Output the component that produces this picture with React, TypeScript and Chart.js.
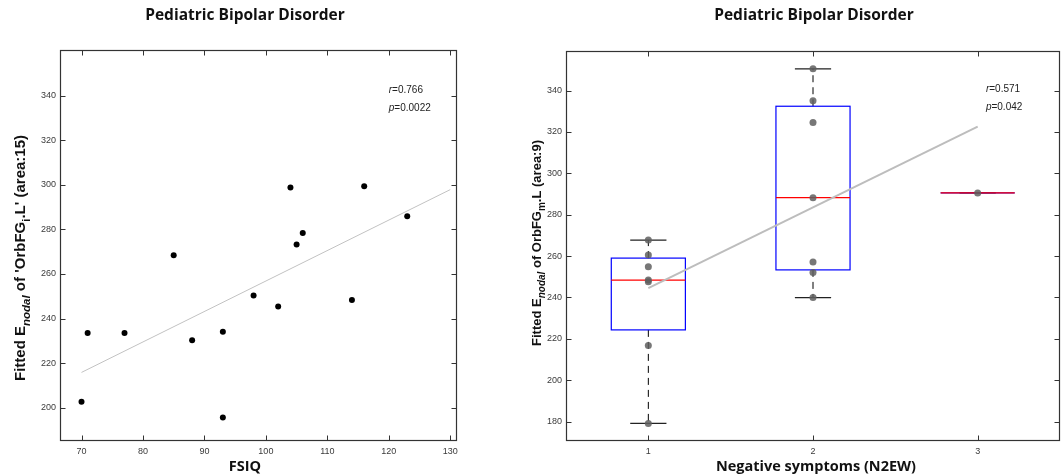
import React, { useEffect, useRef } from "react";
import { Chart, registerables } from "chart.js";
Chart.register(...registerables);

// ---------- Left panel data (FSIQ vs Enodal OrbFG_i.L) ----------
const fsiq = [70, 71, 77, 85, 88, 93, 93, 98, 102, 104, 105, 106, 114, 116, 123];
const enodalOrbFGiL = [202.6, 233.5, 233.5, 268.4, 230.2, 234.1, 195.6, 250.4, 245.4, 298.9, 273.3, 278.4, 248.3, 299.4, 285.9];
const fitFsiqX = [70, 130];
const fitFsiqY = [215.8, 297.9];
const leftXTicks = [70, 80, 90, 100, 110, 120, 130];
const leftYTicks = [200, 220, 240, 260, 280, 300, 320, 340];
const leftStats = ["r=0.766", "p=0.0022"];

// ---------- Right panel data (N2EW vs Enodal OrbFG_m.L) ----------
const n2ewGroups = [1, 2, 3];
const n2ewX = [1, 1, 1, 1, 1, 1, 1, 2, 2, 2, 2, 2, 2, 2, 3];
const enodalOrbFGmL = [267.7, 260.5, 254.8, 248.4, 247.6, 216.7, 179.1, 350.5, 335.1, 324.5, 288.2, 257.1, 252.0, 239.9, 290.5];
const boxQ1 = [224.3, 253.3, 290.5];
const boxMedian = [248.4, 288.2, 290.5];
const boxQ3 = [259.0, 332.4, 290.5];
const whiskerLow = [179.1, 239.9, 290.5];
const whiskerHigh = [267.7, 350.5, 290.5];
const fitN2ewX = [1, 3];
const fitN2ewY = [244.5, 322.5];
const rightXTicks = [1, 2, 3];
const rightYTicks = [180, 200, 220, 240, 260, 280, 300, 320, 340];
const rightStats = ["r=0.571", "p=0.042"];

const TITLE = "Pediatric Bipolar Disorder";
const TICK_FONT = { family: "'Liberation Sans', Arial, sans-serif", size: 9 };
const TICK_COLOR = "#3a3a3a";
const FRAME_COLOR = "#333";
const BOLD_SANS = "'Liberation Sans', Arial, sans-serif";
const HEAD_FONT = "'Open Sans', 'Noto Sans', sans-serif";

type Seg = { text: string; font: string; dy: number };

function drawRich(ctx: CanvasRenderingContext2D, segs: Seg[], cx: number, cy: number, rotate: boolean) {
  ctx.save();
  ctx.translate(cx, cy);
  if (rotate) ctx.rotate(-Math.PI / 2);
  let total = 0;
  for (const s of segs) {
    ctx.font = s.font;
    total += ctx.measureText(s.text).width;
  }
  let x = -total / 2;
  ctx.textAlign = "left";
  ctx.textBaseline = "alphabetic";
  for (const s of segs) {
    ctx.font = s.font;
    ctx.fillText(s.text, x, s.dy);
    x += ctx.measureText(s.text).width;
  }
  ctx.restore();
}

function framePlugin(xTicks: number[], yTicks: number[]) {
  return {
    id: "frameTicks",
    afterDatasetsDraw(chart: any) {
      const { ctx, chartArea: a, scales } = chart;
      const xs = scales.x;
      const ys = scales.y;
      const L = Math.round(a.left) + 0.5;
      const R = Math.round(a.right) - 0.5;
      const T = Math.round(a.top) + 0.5;
      const B = Math.round(a.bottom) - 0.5;
      ctx.save();
      ctx.strokeStyle = FRAME_COLOR;
      ctx.lineWidth = 1.2;
      ctx.strokeRect(L, T, R - L, B - T);
      const tl = 5;
      ctx.lineWidth = 1;
      ctx.beginPath();
      for (const v of xTicks) {
        const px = Math.round(xs.getPixelForValue(v)) + 0.5;
        ctx.moveTo(px, B);
        ctx.lineTo(px, B - tl);
        ctx.moveTo(px, T);
        ctx.lineTo(px, T + tl);
      }
      for (const v of yTicks) {
        const py = Math.round(ys.getPixelForValue(v)) + 0.5;
        ctx.moveTo(L, py);
        ctx.lineTo(L + tl, py);
        ctx.moveTo(R, py);
        ctx.lineTo(R - tl, py);
      }
      ctx.stroke();
      ctx.restore();
    },
  };
}

function textPlugin(opts: {
  titleX: number;
  xLabel: string;
  xLabelX: number;
  yLabelSegs: Seg[];
  yLabelX: number;
  yLabelY: number;
  stats: string[];
  statX: number;
  statY: number;
}) {
  return {
    id: "texts",
    afterDraw(chart: any) {
      const { ctx, scales } = chart;
      ctx.save();
      ctx.fillStyle = "#111";
      ctx.font = `bold 15.5px ${HEAD_FONT}`;
      ctx.textAlign = "center";
      ctx.textBaseline = "alphabetic";
      ctx.fillText(TITLE, opts.titleX, 20);
      ctx.font = `bold 14.5px ${HEAD_FONT}`;
      ctx.fillText(opts.xLabel, opts.xLabelX, 471);
      ctx.fillStyle = "#111";
      drawRich(ctx, opts.yLabelSegs, opts.yLabelX, opts.yLabelY, true);
      // stats annotation anchored in data coordinates
      const px = scales.x.getPixelForValue(opts.statX);
      const py = scales.y.getPixelForValue(opts.statY);
      ctx.fillStyle = "#222";
      opts.stats.forEach((s, i) => {
        const lead = s.slice(0, 1);
        const rest = s.slice(1);
        ctx.textAlign = "left";
        ctx.textBaseline = "middle";
        ctx.font = `italic 10px ${BOLD_SANS}`;
        ctx.fillText(lead, px, py + i * 18);
        const w = ctx.measureText(lead).width;
        ctx.font = `10px ${BOLD_SANS}`;
        ctx.fillText(rest, px + w, py + i * 18);
      });
      ctx.restore();
    },
  };
}

const boxPlugin = {
  id: "boxes",
  beforeDatasetsDraw(chart: any) {
    const { ctx, scales } = chart;
    const xs = scales.x;
    const ys = scales.y;
    ctx.save();
    n2ewGroups.forEach((g, i) => {
      const xc = xs.getPixelForValue(g);
      const bl = xs.getPixelForValue(g - 0.225);
      const br = xs.getPixelForValue(g + 0.225);
      const cl = xs.getPixelForValue(g - 0.11);
      const cr = xs.getPixelForValue(g + 0.11);
      const yq1 = ys.getPixelForValue(boxQ1[i]);
      const yq3 = ys.getPixelForValue(boxQ3[i]);
      const ymed = ys.getPixelForValue(boxMedian[i]);
      const ylo = ys.getPixelForValue(whiskerLow[i]);
      const yhi = ys.getPixelForValue(whiskerHigh[i]);
      // whiskers
      ctx.strokeStyle = "#000";
      ctx.lineWidth = 1;
      ctx.setLineDash([7, 5]);
      ctx.beginPath();
      ctx.moveTo(xc, yq3);
      ctx.lineTo(xc, yhi);
      ctx.moveTo(xc, yq1);
      ctx.lineTo(xc, ylo);
      ctx.stroke();
      ctx.setLineDash([]);
      // caps
      ctx.strokeStyle = "#222";
      ctx.lineWidth = 1.2;
      ctx.beginPath();
      ctx.moveTo(cl, yhi);
      ctx.lineTo(cr, yhi);
      ctx.moveTo(cl, ylo);
      ctx.lineTo(cr, ylo);
      ctx.stroke();
      // box
      ctx.strokeStyle = "#0000ff";
      ctx.lineWidth = 1.2;
      ctx.strokeRect(bl, yq3, br - bl, yq1 - yq3);
      // median
      ctx.strokeStyle = "#ff0000";
      ctx.lineWidth = 1.2;
      ctx.beginPath();
      ctx.moveTo(bl, ymed);
      ctx.lineTo(br, ymed);
      ctx.stroke();
    });
    ctx.restore();
  },
};

function baseScales(xMin: number, xMax: number, yMin: number, yMax: number, xTicks: number[], yTicks: number[], yWidth: number) {
  return {
    x: {
      type: "linear",
      min: xMin,
      max: xMax,
      grid: { display: false, drawTicks: false },
      border: { display: false },
      ticks: { font: TICK_FONT, color: TICK_COLOR, padding: 5, maxRotation: 0, autoSkip: false, callback: (v: any) => String(v) },
      afterBuildTicks: (s: any) => {
        s.ticks = xTicks.map((v) => ({ value: v }));
      },
      afterFit: (s: any) => {
        s.height = 34;
      },
    },
    y: {
      type: "linear",
      min: yMin,
      max: yMax,
      grid: { display: false, drawTicks: false },
      border: { display: false },
      ticks: { font: TICK_FONT, color: TICK_COLOR, padding: 4, autoSkip: false, callback: (v: any) => String(v) },
      afterBuildTicks: (s: any) => {
        s.ticks = yTicks.map((v) => ({ value: v }));
      },
      afterFit: (s: any) => {
        s.width = yWidth;
      },
    },
  };
}

const LEFT_W = 520;
const RIGHT_X = 520;
const RIGHT_W = 544;
const H = 475;

export default function App() {
  const leftRef = useRef<HTMLCanvasElement>(null);
  const rightRef = useRef<HTMLCanvasElement>(null);

  useEffect(() => {
    const supL15 = "bold 15px " + BOLD_SANS;
    const subL15 = "bold italic 11.5px " + BOLD_SANS;
    const subN15 = "bold 11.5px " + BOLD_SANS;
    const supL = "bold 13px " + BOLD_SANS;
    const subL = "bold italic 10px " + BOLD_SANS;
    const subN = "bold 10px " + BOLD_SANS;
    const left = new Chart(leftRef.current as HTMLCanvasElement, {
      type: "scatter",
      data: {
        datasets: [
          {
            type: "line",
            data: fitFsiqX.map((x, i) => ({ x, y: fitFsiqY[i] })),
            borderColor: "#c2c2c2",
            borderWidth: 1,
            pointRadius: 0,
            order: 2,
          } as any,
          {
            type: "scatter",
            data: fsiq.map((x, i) => ({ x, y: enodalOrbFGiL[i] })),
            backgroundColor: "#000",
            borderWidth: 0,
            pointRadius: 3,
            order: 1,
          },
        ],
      },
      options: {
        animation: false,
        responsive: false,
        maintainAspectRatio: false,
        events: [],
        layout: { padding: { left: 0, right: LEFT_W - 457, top: 50, bottom: 0 } },
        plugins: { legend: { display: false }, tooltip: { enabled: false }, title: { display: false } },
        scales: baseScales(66.5, 131.1, 185, 360.6, leftXTicks, leftYTicks, 60) as any,
      },
      plugins: [
        framePlugin(leftXTicks, leftYTicks),
        textPlugin({
          titleX: 245,
          xLabel: "FSIQ",
          xLabelX: 245,
          yLabelSegs: [
            { text: "Fitted E", font: supL15, dy: 0 },
            { text: "nodal", font: subL15, dy: 4.5 },
            { text: " of 'OrbFG", font: supL15, dy: 0 },
            { text: "i", font: subN15, dy: 4.5 },
            { text: ".L' (area:15)", font: supL15, dy: 0 },
          ],
          yLabelX: 25,
          yLabelY: 258,
          stats: leftStats,
          statX: 120,
          statY: 342.5,
        }),
      ],
    });

    const right = new Chart(rightRef.current as HTMLCanvasElement, {
      type: "scatter",
      data: {
        datasets: [
          {
            type: "line",
            data: fitN2ewX.map((x, i) => ({ x, y: fitN2ewY[i] })),
            borderColor: "#bdbdbd",
            borderWidth: 2,
            pointRadius: 0,
            order: 2,
          } as any,
          {
            type: "scatter",
            data: n2ewX.map((x, i) => ({ x, y: enodalOrbFGmL[i] })),
            backgroundColor: "rgba(95,95,95,0.85)",
            borderWidth: 0,
            pointRadius: 3.5,
            order: 1,
          },
        ],
      },
      options: {
        animation: false,
        responsive: false,
        maintainAspectRatio: false,
        events: [],
        layout: { padding: { left: 0, right: RIGHT_W - (1062 - RIGHT_X), top: 51, bottom: 0 } },
        plugins: { legend: { display: false }, tooltip: { enabled: false }, title: { display: false } },
        scales: baseScales(0.5, 3.5, 170.6, 359.1, rightXTicks, rightYTicks, 566 - RIGHT_X) as any,
      },
      plugins: [
        boxPlugin,
        framePlugin(rightXTicks, rightYTicks),
        textPlugin({
          titleX: 814 - RIGHT_X,
          xLabel: "Negative symptoms (N2EW)",
          xLabelX: 816 - RIGHT_X,
          yLabelSegs: [
            { text: "Fitted E", font: supL, dy: 0 },
            { text: "nodal", font: subL, dy: 4 },
            { text: " of OrbFG", font: supL, dy: 0 },
            { text: "m", font: subN, dy: 4 },
            { text: ".L (area:9)", font: supL, dy: 0 },
          ],
          yLabelX: 541 - RIGHT_X,
          yLabelY: 243,
          stats: rightStats,
          statX: 3.05,
          statY: 340.4,
        }),
      ],
    });

    return () => {
      left.destroy();
      right.destroy();
    };
  }, []);

  return (
    <div style={{ position: "absolute", left: 0, top: 0, width: 1064, height: H, background: "#fff" }}>
      <canvas ref={leftRef} width={LEFT_W} height={H} style={{ position: "absolute", left: 0, top: 0, width: LEFT_W, height: H }} />
      <canvas ref={rightRef} width={RIGHT_W} height={H} style={{ position: "absolute", left: RIGHT_X, top: 0, width: RIGHT_W, height: H }} />
    </div>
  );
}
